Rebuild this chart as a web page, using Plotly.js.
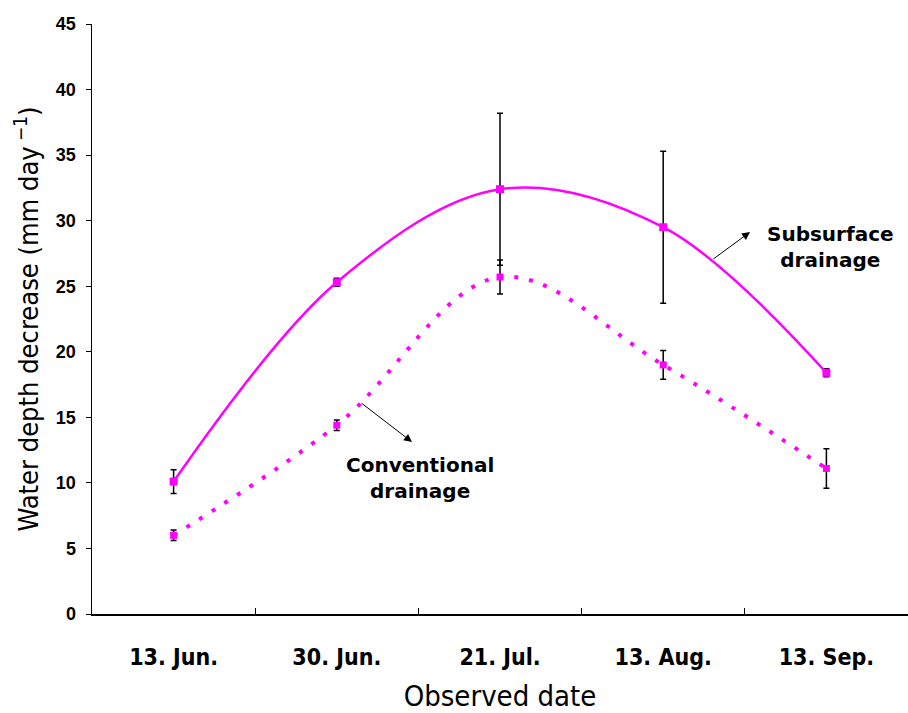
<!DOCTYPE html>
<html>
<head>
<meta charset="utf-8">
<script src="https://cdn.plot.ly/plotly-3.0.1.min.js"></script>
<style>html,body{margin:0;padding:0;background:#fff;}#chart{width:908px;height:713px;}</style>
</head>
<body>
<div id="chart"></div>
<script>
const dates = ["13. Jun.", "30. Jun.", "21. Jul.", "13. Aug.", "13. Sep."];
const subsurface = [10.1, 25.3, 32.4, 29.5, 18.4];
const subsurfaceErr = [0.9, 0.3, 5.8, 5.8, 0.3];
const conventional = [6.0, 14.4, 25.7, 19.0, 11.1];
const conventionalErr = [0.4, 0.4, 1.3, 1.1, 1.5];
const yTicks = [0, 5, 10, 15, 20, 25, 30, 35, 40, 45];

const narrow = "'DejaVu Sans Condensed', 'Liberation Sans Narrow', Arial, sans-serif";
const bold = "'Liberation Sans', Arial, sans-serif";
const wideBold = "'DejaVu Sans', Verdana, sans-serif";

const traces = [
  {
    x: dates, y: subsurface, type: 'scatter', mode: 'lines+markers', name: 'Subsurface drainage',
    line: {color: '#FF00FF', width: 2.5, shape: 'spline', smoothing: 1},
    marker: {color: '#FF00FF', symbol: 'square', size: 8},
    error_y: {type: 'data', array: subsurfaceErr, visible: true, color: '#000', thickness: 1.5, width: 3}
  },
  {
    x: dates, y: conventional, type: 'scatter', mode: 'lines+markers', name: 'Conventional drainage',
    line: {color: '#FF00FF', width: 4, shape: 'spline', smoothing: 1, dash: '4px,11px'},
    marker: {color: '#FF00FF', symbol: 'square', size: 7},
    error_y: {type: 'data', array: conventionalErr, visible: true, color: '#000', thickness: 1.5, width: 3}
  }
];

const layout = {
  width: 908, height: 713,
  margin: {l: 92, r: 0, t: 24, b: 99},
  paper_bgcolor: '#fff', plot_bgcolor: '#fff',
  showlegend: false,
  xaxis: {
    type: 'category', range: [-0.5, 4.5],
    showline: true, linecolor: '#000', linewidth: 1.5,
    showgrid: false, zeroline: false,
    ticks: 'inside', ticklen: 6, tickcolor: '#000', tickson: 'boundaries',
    tickfont: {family: narrow, size: 23, color: '#000', weight: 'bold'},
    ticklabelstandoff: 22,
    title: {text: 'Observed date', font: {family: narrow, size: 29, color: '#000'}, standoff: 17}
  },
  yaxis: {
    range: [0, 45], tickvals: yTicks, ticktext: yTicks.map(String),
    showline: true, linecolor: '#000', linewidth: 1.5,
    showgrid: false, zeroline: false,
    ticks: 'outside', ticklen: 5, tickcolor: '#000',
    tickfont: {family: bold, size: 18, color: '#000', weight: 'bold'},
    ticklabelstandoff: 6,
    title: {text: 'Water depth decrease (mm day<sup> −1</sup>)', font: {family: narrow, size: 27, color: '#000'}, standoff: 9}
  },
  annotations: [
    {xref: 'paper', yref: 'paper', x: (830 - 92) / 816, y: (614 - 247) / 590, xanchor: 'center', yanchor: 'middle',
     text: 'Subsurface<br>drainage',
     showarrow: false, font: {family: wideBold, size: 20, color: '#000', weight: 'bold'}, align: 'center'},
    {xref: 'paper', yref: 'paper', x: (750 - 92) / 816, y: (614 - 232) / 590, text: '',
     showarrow: true, arrowhead: 2, arrowsize: 1.6, arrowwidth: 1, arrowcolor: '#000', ax: -38, ay: 28},
    {xref: 'paper', yref: 'paper', x: (420 - 92) / 816, y: (614 - 478) / 590, xanchor: 'center', yanchor: 'middle',
     text: 'Conventional<br>drainage',
     showarrow: false, font: {family: wideBold, size: 20, color: '#000', weight: 'bold'}, align: 'center'},
    {xref: 'paper', yref: 'paper', x: (412 - 92) / 816, y: (614 - 442) / 590, text: '',
     showarrow: true, arrowhead: 2, arrowsize: 1.6, arrowwidth: 1, arrowcolor: '#000', ax: -52, ay: -40}
  ]
};

Plotly.newPlot('chart', traces, layout, {displayModeBar: false, staticPlot: true});
</script>
</body>
</html>
